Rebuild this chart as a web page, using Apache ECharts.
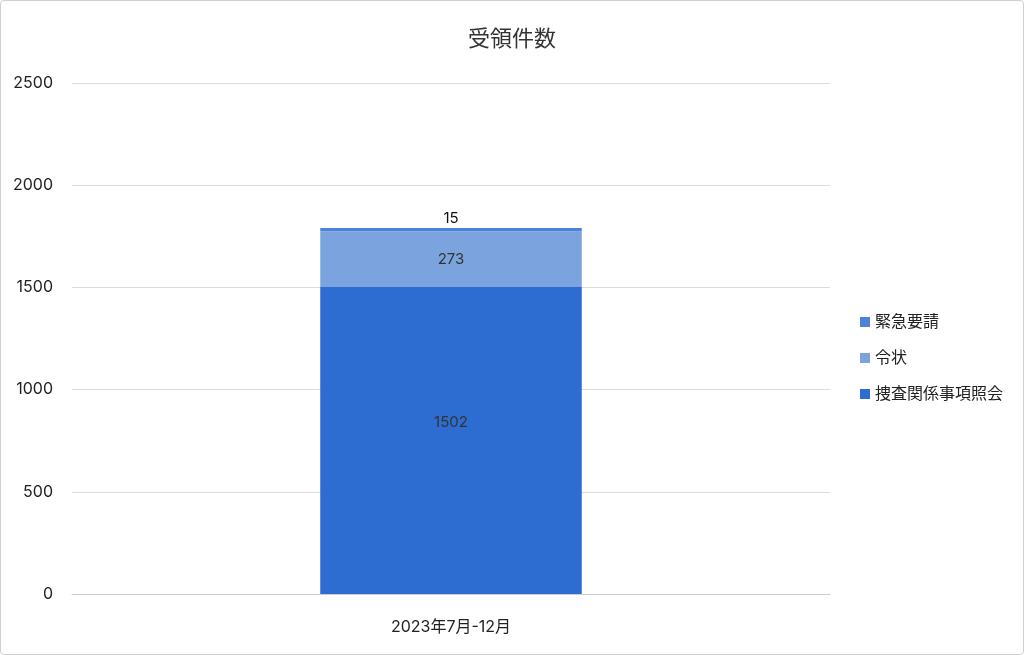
<!DOCTYPE html>
<html><head><meta charset="utf-8">
<script src="https://cdn.jsdelivr.net/npm/echarts@6/dist/echarts.min.js"></script>
<style>html,body{margin:0;padding:0;background:#fff}
#wrap{position:absolute;left:0;top:0;width:1022px;height:653px;border:1px solid #d0d0d0;border-radius:4px}
#c{width:1024px;height:655px;position:absolute;left:0;top:0}</style>
</head><body><div id="wrap"></div><div id="c"></div>
<script>
const categories = ['2023年7月-12月'];
const seriesNames = ['捜査関係事項照会', '令状', '緊急要請'];
const sousa = [1502];
const reijo = [273];
const kinkyu = [15];
const yTicks = [0, 500, 1000, 1500, 2000, 2500];
const colors = ['#2d6cd1', '#7ba4de', '#4e82d8'];
const chart = echarts.init(document.getElementById('c'));
const font = 'Inter, "Noto Sans CJK JP", sans-serif';
chart.setOption({
  textStyle: {fontFamily: font},
  title: {text: '受領件数', left: 'center', top: 23, textStyle: {fontSize: 22, fontWeight: 'normal', color: '#333', fontFamily: font}},
  legend: {orient: 'vertical', left: 855, top: 309, itemWidth: 10, itemHeight: 10, itemGap: 20, icon: 'rect',
    data: [seriesNames[2], seriesNames[1], seriesNames[0]],
    textStyle: {fontSize: 16, color: '#222', fontFamily: font}},
  grid: {left: 72, right: 194, top: 83, bottom: 61},
  xAxis: {type: 'category', data: categories,
    axisLine: {lineStyle: {color: '#ccc'}}, axisTick: {show: false},
    axisLabel: {fontSize: 16, color: '#222', margin: 25}},
  yAxis: {type: 'value', min: yTicks[0], max: yTicks[yTicks.length-1], interval: 500,
    axisLine: {show: false}, axisTick: {show: false},
    splitLine: {lineStyle: {color: '#dcdcdc'}},
    axisLabel: {fontSize: 16, color: '#222', margin: 19, formatter: v => String(v)}},
  series: [
    {name: seriesNames[0], type: 'bar', stack: 's', data: sousa, barWidth: '34.5%', itemStyle: {color: colors[0]},
      label: {show: true, position: 'inside', offset: [0, -18], color: '#333', fontSize: 15}},
    {name: seriesNames[1], type: 'bar', stack: 's', data: reijo, itemStyle: {color: colors[1]},
      label: {show: true, position: 'inside', color: '#333', fontSize: 15}},
    {name: seriesNames[2], type: 'bar', stack: 's', data: kinkyu, itemStyle: {color: colors[2]},
      label: {show: true, position: 'top', color: '#111', fontSize: 15, distance: 2}}
  ]
});
</script></body></html>
